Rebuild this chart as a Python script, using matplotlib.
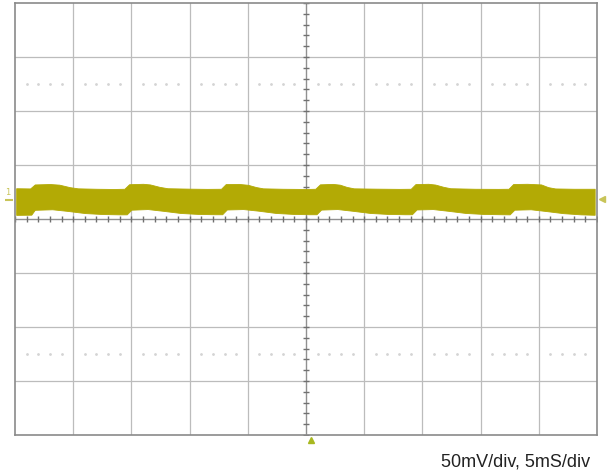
import numpy as np
import matplotlib
matplotlib.use("Agg")
import matplotlib.pyplot as plt

# scope settings
MV_PER_DIV = 50
MS_PER_DIV = 5
N_XDIV = 10
N_YDIV = 8

# envelope of the ripple band (time in ms, level in mV)
top_t = [-24.9, -23.7, -23.3, -22.0, -21.2, -20.3, -19.6, -18.0, -16.5,
         -15.6, -15.2, -14.0, -13.4, -12.6, -11.9, -10.0, -8.5,
         -7.3, -6.9, -5.8, -5.0, -4.3, -3.7, -2.0, 0.0,
         0.8, 1.2, 2.3, 2.9, 3.5, 4.1, 6.0, 8.0,
         9.0, 9.4, 10.5, 11.1, 11.8, 12.4, 14.5, 16.5,
         17.4, 17.8, 19.0, 20.2, 20.8, 21.4, 23.0, 24.8]
top_v = [28.5, 28.3, 32.0, 32.4, 31.8, 29.5, 28.4, 28.0, 27.8,
         28.0, 32.2, 32.6, 32.0, 29.8, 28.5, 28.1, 27.9,
         28.0, 32.3, 32.5, 31.7, 29.6, 28.4, 28.0, 27.8,
         28.0, 32.1, 32.5, 31.8, 29.7, 28.4, 28.1, 27.9,
         28.0, 32.3, 32.6, 31.9, 29.8, 28.5, 28.0, 27.9,
         28.0, 32.4, 32.6, 32.0, 29.5, 28.3, 28.0, 28.0]

bot_t = [-24.9, -23.6, -23.3, -21.8, -20.5, -19.0, -17.5, -16.0,
         -15.4, -15.0, -13.6, -12.3, -10.8, -9.3, -7.8,
         -7.2, -6.8, -5.4, -4.1, -2.6, -1.1, 0.3,
         0.9, 1.3, 2.7, 4.0, 5.5, 7.0, 8.5,
         9.1, 9.5, 10.9, 12.2, 13.7, 15.2, 16.8,
         17.5, 17.9, 19.3, 20.6, 22.1, 23.6, 24.8]
bot_v = [3.8, 4.0, 8.5, 9.0, 7.5, 5.5, 4.6, 4.3,
         4.3, 8.6, 9.2, 7.6, 5.6, 4.7, 4.4,
         4.4, 8.8, 9.2, 7.7, 5.6, 4.7, 4.4,
         4.4, 8.7, 9.2, 7.6, 5.6, 4.7, 4.4,
         4.4, 8.8, 9.2, 7.6, 5.6, 4.7, 4.4,
         4.3, 8.6, 9.0, 7.4, 5.4, 4.3, 3.9]

ch1_level = 18.0    # mV, channel ground marker on the left
trig_level = 18.5   # mV, right-hand marker
trig_time = 0.4     # ms, bottom marker
caption = "50mV/div, 5mS/div"

trace_color = "#b3aa05"
marker_color = "#c8c458"

xmax = MS_PER_DIV * N_XDIV / 2
ymax = MV_PER_DIV * N_YDIV / 2

fig = plt.figure(figsize=(6.10, 4.74), dpi=100)
ax = fig.add_axes([15 / 610, 39 / 474, 582 / 610, 432 / 474])
ax.set_xlim(-xmax, xmax)
ax.set_ylim(-ymax, ymax)
ax.set_xticks([])
ax.set_yticks([])
for s in ax.spines.values():
    s.set_color("#8a8a8a")
    s.set_linewidth(1.2)

# graticule
for x in np.arange(-xmax + MS_PER_DIV, xmax, MS_PER_DIV):
    if x != 0:
        ax.axvline(x, color="#bcbcbc", lw=0.9, zorder=1)
for y in np.arange(-ymax + MV_PER_DIV, ymax, MV_PER_DIV):
    if y != 0:
        ax.axhline(y, color="#bcbcbc", lw=0.9, zorder=1)

# dotted lines at +-2.5 div
minor_x = [x for x in np.arange(-xmax, xmax + 0.01, MS_PER_DIV / 5)
           if abs(x / MS_PER_DIV - round(x / MS_PER_DIV)) > 1e-6]
for y in (2.5 * MV_PER_DIV, -2.5 * MV_PER_DIV):
    ax.plot(minor_x, [y] * len(minor_x), ls="none", marker="o", ms=1.0,
            color="#d4d4d4", zorder=1)

# centre axes with minor ticks
ax.axhline(0, color="#909090", lw=1.0, zorder=2)
ax.axvline(0, color="#909090", lw=1.0, zorder=2)
tx = np.arange(-xmax, xmax + 0.01, MS_PER_DIV / 5)
ax.plot(tx, np.zeros_like(tx), ls="none", marker="|", ms=5, mew=1.0,
        color="#707070", zorder=2)
ty = np.arange(-ymax, ymax + 0.01, MV_PER_DIV / 5)
ax.plot(np.zeros_like(ty), ty, ls="none", marker="_", ms=5, mew=1.0,
        color="#707070", zorder=2)

# ripple band
t_all = np.union1d(top_t, bot_t)
ax.fill_between(t_all, np.interp(t_all, bot_t, bot_v),
                np.interp(t_all, top_t, top_v),
                color=trace_color, lw=0.6, edgecolor=trace_color, zorder=3)

# channel / trigger markers
ax.text(-xmax - 0.65, ch1_level + 2, "1", fontsize=6, color=marker_color,
        ha="center", va="bottom", clip_on=False)
ax.plot([-xmax - 0.55], [ch1_level], ls="none", marker="_", ms=6, mew=1.5,
        color=marker_color, clip_on=False)
ax.plot([xmax + 0.45], [trig_level], ls="none", marker="<", ms=5,
        color=marker_color, clip_on=False, zorder=4)
ax.plot([trig_time], [-ymax - 5], ls="none", marker="^", ms=5,
        color="#a8b820", clip_on=False, zorder=4)

fig.text(590 / 610, 1 - 462 / 474, caption, ha="right", va="center",
         fontsize=13, family="Liberation Sans", color="#222222")

fig.savefig("out.png", dpi=100)
